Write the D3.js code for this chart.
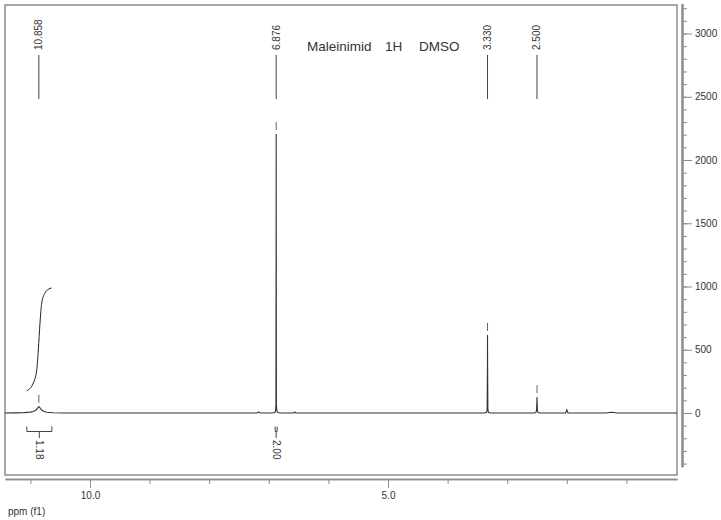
<!DOCTYPE html>
<html>
<head>
<meta charset="utf-8">
<script src="https://cdn.jsdelivr.net/npm/d3@7"></script>
<style>
body { margin:0; background:#fff; }
text { font-family: "Liberation Sans", Arial, sans-serif; fill:#333; }
</style>
</head>
<body>
<svg id="nmr" width="721" height="520"></svg>
<script>
// spectrum trace: [ppm, intensity]
const spectrum = [
  [11.43,0],[11.25,1],[11.10,3],[11.00,7],[10.95,12],[10.91,22],[10.885,35],[10.868,46],[10.858,50],
  [10.848,46],[10.83,35],[10.805,22],[10.77,12],[10.72,6],[10.62,2],[10.45,0],
  [7.20,0],[7.17,9],[7.15,0],
  [6.95,0],[6.90,4],[6.888,15],[6.880,60],[6.877,1500],[6.876,2205],[6.875,1500],[6.872,60],[6.864,15],[6.85,4],[6.80,0],
  [6.59,0],[6.566,8],[6.55,0],
  [3.38,0],[3.345,6],[3.336,30],[3.331,400],[3.330,617],[3.329,400],[3.324,30],[3.315,6],[3.28,0],
  [2.54,0],[2.515,6],[2.507,25],[2.502,90],[2.500,126],[2.498,90],[2.493,25],[2.485,6],[2.46,0],
  [2.02,0],[2.0,25],[1.98,0],
  [1.35,0],[1.25,6],[1.15,0],
  [0.15,0]
];

// picked peaks
const peakPpm = [10.858, 6.876, 3.330, 2.500];
const peakHeight = [50, 2205, 617, 126];
const peakLabels = ["10.858", "6.876", "3.330", "2.500"];

// integral regions
const integralFrom = [11.06, 6.893];
const integralTo = [10.64, 6.860];
const integralLabels = ["1.18", "2.00"];

// integral curve of the first region, in intensity units
const integralCurve = [
  [11.062,174],[10.951,237],[10.894,340],[10.867,498],[10.839,711],[10.810,870],[10.755,949],[10.700,978],[10.643,988]
];

const titleWords = ["Maleinimid", "1H", "DMSO"];
const xMinorTicks = [11,10,9,8,7,6,5,4,3,2,1];
const xMajorTicks = [10, 5];
const yLabelTicks = [0,500,1000,1500,2000,2500,3000];
const yMinorTicks = [-400,-300,-200,-100,0,100,200,300,400,500,600,700,800,900,1000,1100,1200,1300,1400,1500,1600,1700,1800,1900,2000,2100,2200,2300,2400,2500,2600,2700,2800,2900,3000,3100,3200];

const frame = {left:5, top:5, right:677, bottom:475};
const svg = d3.select("#nmr");

const x = d3.scaleLinear().domain([11.426, 0.151]).range([frame.left, frame.right]);
const y = d3.scaleLinear().domain([0, 3000]).range([413, 33.5]);

// frame
svg.append("rect").attr("x", frame.left).attr("y", frame.top)
  .attr("width", frame.right - frame.left).attr("height", frame.bottom - frame.top)
  .attr("fill", "none").attr("stroke", "#8c8c8c").attr("stroke-width", 1.5);

// right intensity axis
const yAxisG = svg.append("g").attr("transform", "translate(682,0)");
const yAxisScale = y.copy().domain([-425, 3235]).range([y(-425), y(3235)]);
yAxisG.call(d3.axisRight(yAxisScale).tickValues(yMinorTicks).tickSize(5).tickSizeOuter(0).tickFormat(""));
yAxisG.append("g").call(d3.axisRight(yAxisScale).tickValues(yLabelTicks).tickSize(10).tickSizeOuter(0).tickFormat(d3.format("d")));
yAxisG.selectAll("path.domain").attr("stroke", "#8c8c8c").attr("stroke-width", 2);
yAxisG.selectAll(".tick line").attr("stroke", "#8c8c8c");
yAxisG.selectAll(".tick text").attr("font-size", 10).attr("fill", "#333").attr("x", 13);

// bottom ppm axis
const xAxisG = svg.append("g").attr("transform", "translate(0,479)");
const xAxisScale = x.copy();
xAxisG.call(d3.axisBottom(xAxisScale).tickValues(xMinorTicks).tickSize(5).tickSizeOuter(0).tickFormat(""));
xAxisG.append("g").call(d3.axisBottom(xAxisScale).tickValues(xMajorTicks).tickSize(9).tickSizeOuter(0).tickFormat(d3.format(".1f")));
xAxisG.selectAll("path.domain").attr("stroke", "#8c8c8c").attr("stroke-width", 1.5);
xAxisG.selectAll(".tick line").attr("stroke", "#8c8c8c");
xAxisG.selectAll(".tick text").attr("font-size", 10).attr("fill", "#333").attr("y", 13);

svg.append("text").attr("x", 8).attr("y", 515).attr("font-size", 10).text("ppm (f1)");

// spectrum
svg.append("path").datum(spectrum).attr("fill", "none").attr("stroke", "#333").attr("stroke-width", 1.1)
  .attr("d", d3.line().x(d => x(d[0])).y(d => y(d[1])));

// integral curve
svg.append("path").datum(integralCurve).attr("fill", "none").attr("stroke", "#222").attr("stroke-width", 1)
  .attr("d", d3.line().curve(d3.curveMonotoneX).x(d => x(d[0])).y(d => y(d[1])));

// peak markers just above the peak tops
svg.selectAll(".pmark").data(peakPpm).enter().append("line")
  .attr("x1", d => x(d)).attr("x2", d => x(d))
  .attr("y1", (d, i) => y(peakHeight[i]) - 4).attr("y2", (d, i) => y(peakHeight[i]) - 12)
  .attr("stroke", "#666").attr("stroke-width", 1);

// peak labels at top
svg.selectAll(".plabel-line").data(peakPpm).enter().append("line")
  .attr("x1", d => x(d)).attr("x2", d => x(d)).attr("y1", 55).attr("y2", 99)
  .attr("stroke", "#444").attr("stroke-width", 1);
svg.selectAll(".plabel").data(peakPpm).enter().append("text")
  .attr("transform", d => `translate(${x(d)},50) rotate(-90)`)
  .attr("dy", "0.35em").attr("font-size", 10).attr("text-anchor", "start")
  .text((d, i) => peakLabels[i]);

// integral brackets and values
integralFrom.forEach((f, i) => {
  const x0 = x(f), x1 = x(integralTo[i]), xm = (x0 + x1) / 2;
  svg.append("path").attr("fill", "none").attr("stroke", "#444").attr("stroke-width", 1)
    .attr("d", `M${x0},426.5V431.5H${x1}V426.5M${xm},431.5V438`);
  svg.append("text").attr("transform", `translate(${xm},440) rotate(90)`)
    .attr("dy", "0.35em").attr("font-size", 10).attr("text-anchor", "start")
    .text(integralLabels[i]);
});

// title
const titleX = [307, 385, 419];
svg.selectAll(".title").data(titleWords).enter().append("text")
  .attr("x", (d, i) => titleX[i]).attr("y", 51).attr("font-size", 13.5).text(d => d);
</script>
</body>
</html>
